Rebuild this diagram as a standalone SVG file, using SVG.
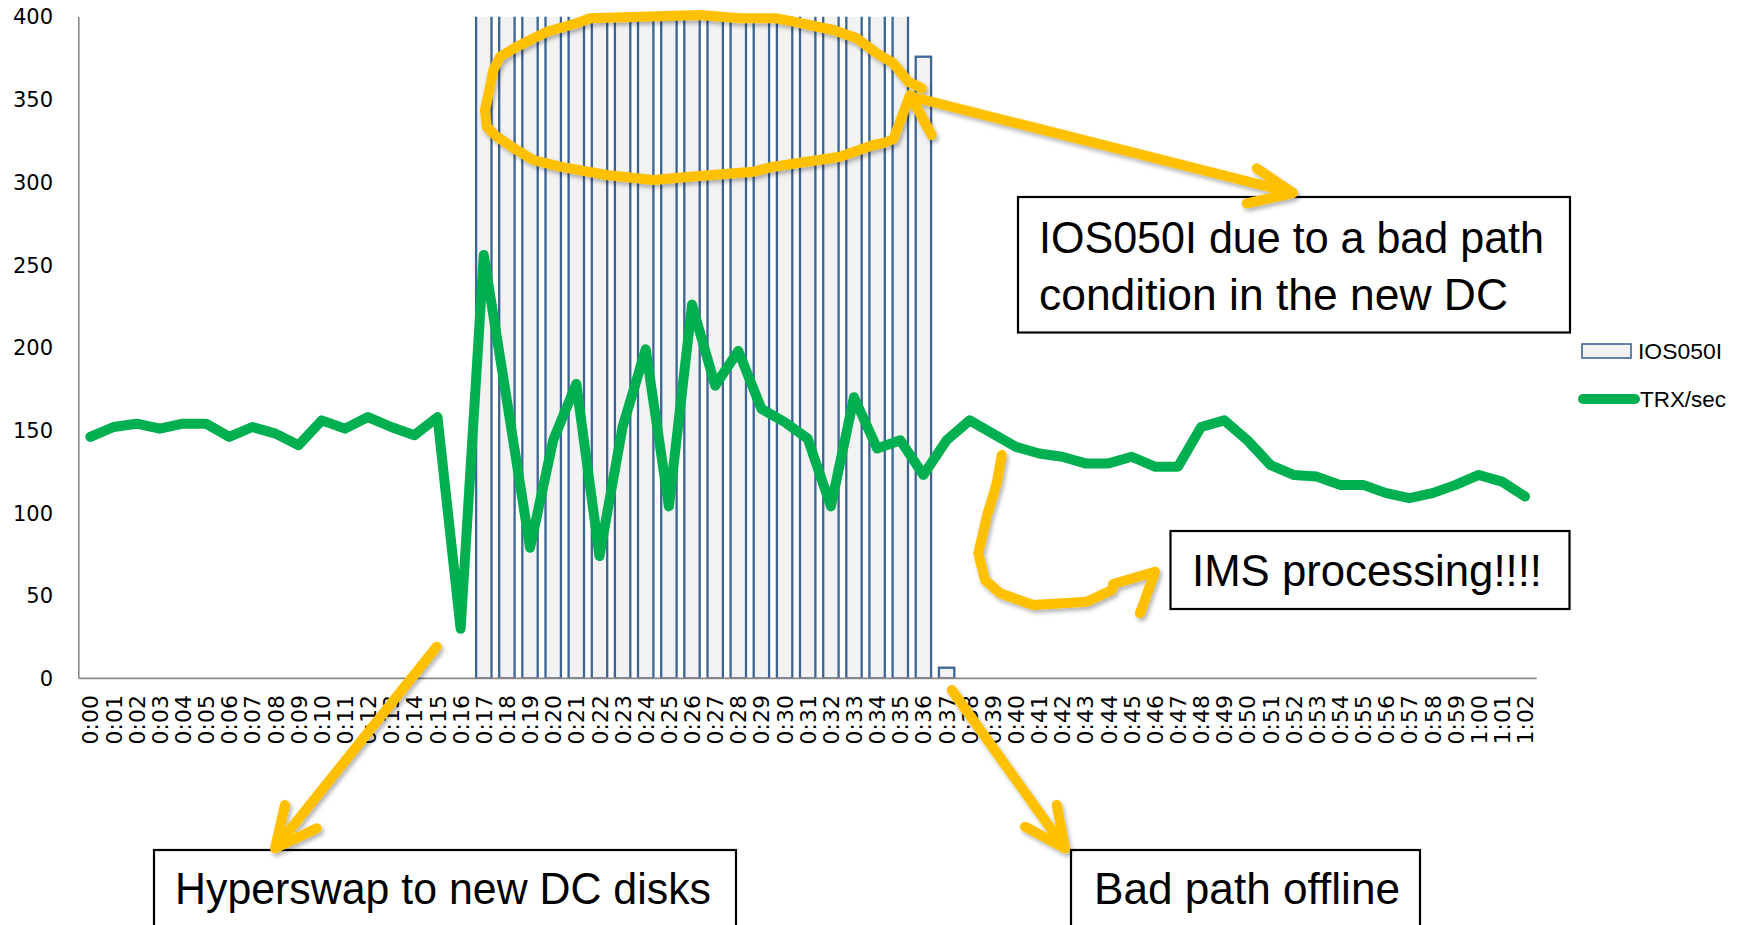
<svg xmlns="http://www.w3.org/2000/svg" width="1741" height="925" viewBox="0 0 1741 925">
  <defs>
    <style>
      .axis { stroke: #888888; stroke-width: 1.6; fill: none; }
      .bar { fill: #F2F2F2; stroke: #3D6494; stroke-width: 2.3; }
      .ylab { font-family: "DejaVu Sans", Verdana, sans-serif; font-size: 21px; fill: #000; text-anchor: end; }
      .xlab { font-family: "DejaVu Sans", Verdana, sans-serif; font-size: 22px; fill: #000; text-anchor: end; }
      .trx { fill: none; stroke: #00B050; stroke-width: 10; stroke-linejoin: round; stroke-linecap: round; }
      .leg { font-family: "Liberation Sans", Arial, sans-serif; font-size: 22.5px; fill: #000; }
      .note rect { fill: #FFFFFF; stroke: #000000; stroke-width: 2.2; }
      .note text { font-family: "Liberation Sans", Arial, sans-serif; font-size: 45px; fill: #000; }
      .mark { fill: none; stroke: #FFC000; stroke-width: 10; stroke-linecap: round; stroke-linejoin: round; }
    </style>
    <clipPath id="plotClip">
      <rect x="70" y="16.7" width="1480" height="662"/>
    </clipPath>
    <filter id="shadow" x="-10%" y="-10%" width="120%" height="120%">
      <feDropShadow dx="2" dy="3" stdDeviation="2" flood-color="#000" flood-opacity="0.3"/>
    </filter>
  </defs>

  <rect width="1741" height="925" fill="#FFFFFF"/>

  <!-- IOS050I column series -->
  <g id="bars" clip-path="url(#plotClip)">
    <rect class="bar" x="476.1" y="5" width="15.4" height="673.4"/>
    <rect class="bar" x="499.2" y="5" width="15.4" height="673.4"/>
    <rect class="bar" x="522.3" y="5" width="15.4" height="673.4"/>
    <rect class="bar" x="545.5" y="5" width="15.4" height="673.4"/>
    <rect class="bar" x="568.6" y="5" width="15.4" height="673.4"/>
    <rect class="bar" x="591.8" y="5" width="15.4" height="673.4"/>
    <rect class="bar" x="614.9" y="5" width="15.4" height="673.4"/>
    <rect class="bar" x="638.0" y="5" width="15.4" height="673.4"/>
    <rect class="bar" x="661.2" y="5" width="15.4" height="673.4"/>
    <rect class="bar" x="684.3" y="5" width="15.4" height="673.4"/>
    <rect class="bar" x="707.5" y="5" width="15.4" height="673.4"/>
    <rect class="bar" x="730.6" y="5" width="15.4" height="673.4"/>
    <rect class="bar" x="753.7" y="5" width="15.4" height="673.4"/>
    <rect class="bar" x="776.9" y="5" width="15.4" height="673.4"/>
    <rect class="bar" x="800.0" y="5" width="15.4" height="673.4"/>
    <rect class="bar" x="823.2" y="5" width="15.4" height="673.4"/>
    <rect class="bar" x="846.3" y="5" width="15.4" height="673.4"/>
    <rect class="bar" x="869.4" y="5" width="15.4" height="673.4"/>
    <rect class="bar" x="892.6" y="5" width="15.4" height="673.4"/>
    <rect class="bar" x="915.7" y="56.7" width="15.4" height="621.7"/>
    <rect class="bar" x="938.9" y="667.7" width="15.4" height="10.7"/>
  </g>

  <!-- axes -->
  <g id="axes">
    <line class="axis" x1="78.8" y1="17" x2="78.8" y2="678.4"/>
    <line class="axis" x1="78.8" y1="678.4" x2="1536.7" y2="678.4"/>
  </g>

  <!-- value axis labels -->
  <g id="y-labels">
    <text class="ylab" x="53" y="686">0</text>
    <text class="ylab" x="53" y="603.3">50</text>
    <text class="ylab" x="53" y="520.6">100</text>
    <text class="ylab" x="53" y="437.9">150</text>
    <text class="ylab" x="53" y="355.2">200</text>
    <text class="ylab" x="53" y="272.5">250</text>
    <text class="ylab" x="53" y="189.8">300</text>
    <text class="ylab" x="53" y="107.1">350</text>
    <text class="ylab" x="53" y="24.4">400</text>
  </g>

  <!-- category axis labels (rotated frame: x = -y, y = x) -->
  <g id="x-labels" transform="translate(0.8 0) rotate(-90)">
    <text class="xlab" x="-695" y="97.7">0:00</text>
    <text class="xlab" x="-695" y="120.8">0:01</text>
    <text class="xlab" x="-695" y="144.0">0:02</text>
    <text class="xlab" x="-695" y="167.1">0:03</text>
    <text class="xlab" x="-695" y="190.2">0:04</text>
    <text class="xlab" x="-695" y="213.4">0:05</text>
    <text class="xlab" x="-695" y="236.5">0:06</text>
    <text class="xlab" x="-695" y="259.6">0:07</text>
    <text class="xlab" x="-695" y="282.8">0:08</text>
    <text class="xlab" x="-695" y="305.9">0:09</text>
    <text class="xlab" x="-695" y="329.1">0:10</text>
    <text class="xlab" x="-695" y="352.2">0:11</text>
    <text class="xlab" x="-695" y="375.3">0:12</text>
    <text class="xlab" x="-695" y="398.5">0:13</text>
    <text class="xlab" x="-695" y="421.6">0:14</text>
    <text class="xlab" x="-695" y="444.8">0:15</text>
    <text class="xlab" x="-695" y="467.9">0:16</text>
    <text class="xlab" x="-695" y="491.1">0:17</text>
    <text class="xlab" x="-695" y="514.2">0:18</text>
    <text class="xlab" x="-695" y="537.3">0:19</text>
    <text class="xlab" x="-695" y="560.5">0:20</text>
    <text class="xlab" x="-695" y="583.6">0:21</text>
    <text class="xlab" x="-695" y="606.8">0:22</text>
    <text class="xlab" x="-695" y="629.9">0:23</text>
    <text class="xlab" x="-695" y="653.0">0:24</text>
    <text class="xlab" x="-695" y="676.2">0:25</text>
    <text class="xlab" x="-695" y="699.3">0:26</text>
    <text class="xlab" x="-695" y="722.5">0:27</text>
    <text class="xlab" x="-695" y="745.6">0:28</text>
    <text class="xlab" x="-695" y="768.7">0:29</text>
    <text class="xlab" x="-695" y="791.9">0:30</text>
    <text class="xlab" x="-695" y="815.0">0:31</text>
    <text class="xlab" x="-695" y="838.2">0:32</text>
    <text class="xlab" x="-695" y="861.3">0:33</text>
    <text class="xlab" x="-695" y="884.4">0:34</text>
    <text class="xlab" x="-695" y="907.6">0:35</text>
    <text class="xlab" x="-695" y="930.7">0:36</text>
    <text class="xlab" x="-695" y="953.9">0:37</text>
    <text class="xlab" x="-695" y="977.0">0:38</text>
    <text class="xlab" x="-695" y="1000.1">0:39</text>
    <text class="xlab" x="-695" y="1023.3">0:40</text>
    <text class="xlab" x="-695" y="1046.4">0:41</text>
    <text class="xlab" x="-695" y="1069.6">0:42</text>
    <text class="xlab" x="-695" y="1092.7">0:43</text>
    <text class="xlab" x="-695" y="1115.8">0:44</text>
    <text class="xlab" x="-695" y="1139.0">0:45</text>
    <text class="xlab" x="-695" y="1162.1">0:46</text>
    <text class="xlab" x="-695" y="1185.3">0:47</text>
    <text class="xlab" x="-695" y="1208.4">0:48</text>
    <text class="xlab" x="-695" y="1231.5">0:49</text>
    <text class="xlab" x="-695" y="1254.7">0:50</text>
    <text class="xlab" x="-695" y="1277.8">0:51</text>
    <text class="xlab" x="-695" y="1301.0">0:52</text>
    <text class="xlab" x="-695" y="1324.1">0:53</text>
    <text class="xlab" x="-695" y="1347.2">0:54</text>
    <text class="xlab" x="-695" y="1370.4">0:55</text>
    <text class="xlab" x="-695" y="1393.5">0:56</text>
    <text class="xlab" x="-695" y="1416.6">0:57</text>
    <text class="xlab" x="-695" y="1439.8">0:58</text>
    <text class="xlab" x="-695" y="1462.9">0:59</text>
    <text class="xlab" x="-695" y="1486.1">1:00</text>
    <text class="xlab" x="-695" y="1509.2">1:01</text>
    <text class="xlab" x="-695" y="1532.3">1:02</text>
  </g>

  <!-- TRX/sec line series, plotted in data units (minute index, value) -->
  <g id="trx-series" transform="translate(90.37 678.4) scale(23.14 -1.654)">
    <polyline class="trx" vector-effect="non-scaling-stroke" points="0,146 1,152 2,154 3,151 4,154 5,154 6,146 7,152 8,148 9,141 10,156 11,151 12,158 13,152 14,147 15,158 16,30 17,256 18,168 19,79 20,144 21,178 22,74 23,152 24,199 25,104 26,226 27,177 28,198 29,163 30,155 31,145 32,104 33,170 34,139 35,144 36,123 37,144 38,156 39,148 40,140 41,136 42,134 43,130 44,130 45,134 46,128 47,128 48,152 49,156 50,144 51,129 52,123 53,122 54,117 55,117 56,112 57,109 58,112 59,117 60,123 61,119 62,110"/>
  </g>

  <!-- legend -->
  <g id="legend">
    <rect x="1582" y="344" width="49" height="14" fill="#F2F2F2" stroke="#3D6494" stroke-width="1.6"/>
    <text class="leg" x="1638" y="358.5" textLength="84" lengthAdjust="spacingAndGlyphs">IOS050I</text>
    <line x1="1583" y1="399" x2="1635" y2="399" stroke="#00B050" stroke-width="10" stroke-linecap="round"/>
    <text class="leg" x="1640" y="407" textLength="86" lengthAdjust="spacingAndGlyphs">TRX/sec</text>
  </g>

  <!-- callout boxes -->
  <g id="note-ios050i" class="note">
    <rect x="1018" y="197" width="552" height="135.5"/>
    <text x="1039" y="253" textLength="505" lengthAdjust="spacingAndGlyphs">IOS050I due to a bad path</text>
    <text x="1039" y="310" textLength="469" lengthAdjust="spacingAndGlyphs">condition in the new DC</text>
  </g>
  <g id="note-ims" class="note">
    <rect x="1170.5" y="531" width="399" height="78"/>
    <text x="1192" y="586" textLength="350" lengthAdjust="spacingAndGlyphs">IMS processing!!!!</text>
  </g>
  <g id="note-hyperswap" class="note">
    <rect x="154" y="850" width="582" height="100"/>
    <text x="175" y="904" textLength="536" lengthAdjust="spacingAndGlyphs">Hyperswap to new DC disks</text>
  </g>
  <g id="note-badpath" class="note">
    <rect x="1071" y="850" width="349" height="100"/>
    <text x="1094" y="904" textLength="306" lengthAdjust="spacingAndGlyphs">Bad path offline</text>
  </g>

  <!-- hand-drawn highlight strokes -->
  <g id="connectors" class="mark" filter="url(#shadow)">
    <!-- loop around the saturated columns, ending in a small arrowhead -->
    <path d="M921.7 88.3 L908.3 81.7 L893.3 63.3 L876.7 53.3 L856.7 38.3 L833.3 30 L793.3 21.7 L776.7 18.3 L740 18.3 L700 15 L640 16.7 L590 18.3 L576.7 23.3 L546.7 31.7 L536.7 36.7 L516.7 46.7 L500 56.7 L493.3 70 L490 86.7 L485 110 L486.7 126.7 L496.7 136.7 L516.7 150 L533.3 160 L560 166.7 L606.7 175 L653.3 180 L690 176.7 L753.3 171.7 L773.3 166.7 L840 156.7 L873.3 145 L884 143 L893.5 139 L910 95 L931.7 135"/>
    <!-- arrow to the IOS050I note -->
    <path d="M913 97 L1293 193 M1256.7 168.3 L1293 193 L1246.7 203.3"/>
    <!-- arrow to the Hyperswap note -->
    <path d="M436.7 646.7 L275 848.3 M285 805 L275 848.3 L316.7 828.3"/>
    <!-- arrow to the Bad path note -->
    <path d="M951.7 690 L1065 848.3 M1056.7 805 L1065 848.3 L1025 826.7"/>
    <!-- curved arrow to the IMS note -->
    <path d="M1001.7 455 L996.7 483.3 L986.7 516.7 L978.3 553.3 L985 580 L1000 593.3 L1033.3 605 L1086.7 601.7 L1112 590 L1113 584 L1155 571.7 L1140 613.3"/>
  </g>
</svg>
